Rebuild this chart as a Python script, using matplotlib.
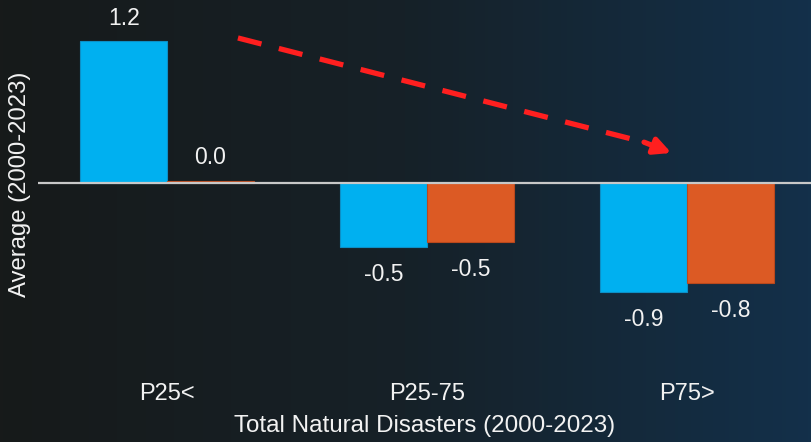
import numpy as np
import matplotlib
matplotlib.use("Agg")
import matplotlib.pyplot as plt
from matplotlib.colors import LinearSegmentedColormap

plt.rcParams['font.family'] = ['Liberation Sans', 'DejaVu Sans']

categories = ["P25<", "P25-75", "P75>"]
series_blue = [1.20, -0.54, -0.92]
series_orange = [0.02, -0.50, -0.845]

BLUE = "#00b0f0"
ORANGE = "#dc5a24"
TEXT = "#f2f2f2"

W, H, DPI = 811, 442, 100
fig = plt.figure(figsize=(W / DPI, H / DPI), dpi=DPI)

# horizontal background gradient
bg = fig.add_axes([0, 0, 1, 1], zorder=0)
cmap = LinearSegmentedColormap.from_list("bg", ["#171a1a", "#162128", "#13304a"])
bg.imshow(np.linspace(0, 1, 256)[None, :], aspect="auto", cmap=cmap,
          extent=[0, 1, 0, 1])
bg.set_axis_off()

left_px, bottom_px = 38, 368
ax = fig.add_axes([left_px / W, (H - bottom_px) / H, 1 - left_px / W, bottom_px / H],
                  zorder=1)
ax.set_facecolor("none")

x = np.arange(len(categories))
width = 0.333
b1 = ax.bar(x - width / 2, series_blue, width, color=BLUE, edgecolor="#0d8fc6",
            linewidth=0.8, zorder=2)
b2 = ax.bar(x + width / 2, series_orange, width, color=ORANGE, edgecolor="#b9481c",
            linewidth=0.8, zorder=2)

ax.axhline(0, color="#c8c8c8", lw=1.6, zorder=3)

for bars, vals in ((b1, series_blue), (b2, series_orange)):
    for rect, v in zip(bars, vals):
        cx = rect.get_x() + rect.get_width() / 2
        off = 16.5 if v >= 0 else -20
        ax.annotate(f"{v:.1f}", xy=(cx, v), xytext=(0, off), textcoords="offset points",
                    ha="center", va="center", color=TEXT, fontsize=16.5)

ax.set_xlim(-0.496, 2.477)
ax.set_ylim(-1.564, 1.547)
ax.set_xticks(x)
ax.set_xticklabels(categories, color=TEXT, fontsize=17)
ax.tick_params(axis="x", length=0, pad=11)
ax.set_yticks([])
for s in ax.spines.values():
    s.set_visible(False)

ax.set_xlabel("Total Natural Disasters (2000-2023)", color=TEXT, fontsize=17.4, labelpad=7)
ax.set_ylabel("Average (2000-2023)", color=TEXT, fontsize=17.2, va="center")
ax.yaxis.set_label_coords(-0.0233, 0.5)

# trend arrow
start = (0.273, 1.226)
base = (1.835, 0.345)
tip = (1.94, 0.254)
ax.plot([start[0], base[0]], [start[1], base[1]], color="#ff1f1f", lw=3.8,
        dashes=(4.6, 3.4), solid_capstyle="butt", dash_capstyle="butt", zorder=4)
ax.annotate("", xy=tip, xytext=base,
            arrowprops=dict(arrowstyle="-|>,head_length=1.0,head_width=0.5",
                            color="#ff1f1f", lw=3.8, shrinkA=0, shrinkB=0),
            zorder=4)

fig.savefig("out.png", dpi=DPI)
